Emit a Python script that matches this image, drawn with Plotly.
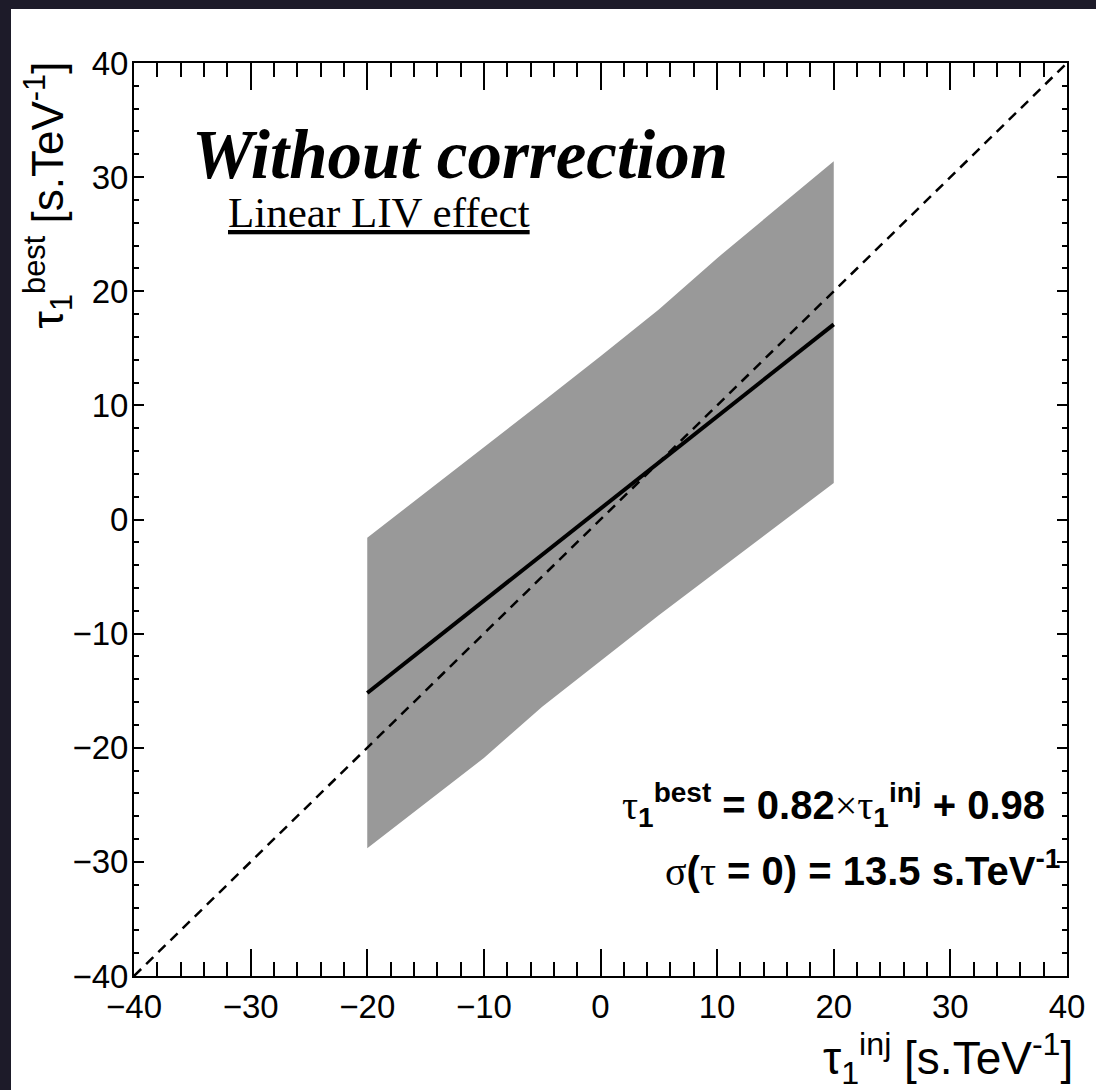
import plotly.graph_objects as go

# ---- data ----
band_x = [-20, -10, -5, 0, 5, 10, 20]
band_upper = [-1.6, 6.3, 10.3, 14.3, 18.4, 22.9, 31.4]
band_lower = [-28.8, -20.9, -16.4, -12.4, -8.4, -4.5, 3.2]
fit_x = [-20, 20]
fit_y = [-15.2, 17.1]
diag_x = [-40, 40]
diag_y = [-40, 40]
tick_vals = [-40, -30, -20, -10, 0, 10, 20, 30, 40]

W, H = 1096, 1090
L, R, T, B = 134, 1096 - 1067, 63, 1090 - 976
pw, ph = W - L - R, H - T - B


def px(x):
    return (x - L) / pw


def py(y):
    return (H - B - y) / ph


fig = go.Figure()
fig.add_trace(go.Scatter(
    x=band_x + band_x[::-1], y=band_upper + band_lower[::-1],
    fill="toself", fillcolor="#999999", line=dict(width=0),
    mode="lines", hoverinfo="skip", showlegend=False))
fig.add_trace(go.Scatter(
    x=diag_x, y=diag_y, mode="lines",
    line=dict(color="black", width=2.5, dash="10px,7px"), showlegend=False))
fig.add_trace(go.Scatter(
    x=fit_x, y=fit_y, mode="lines",
    line=dict(color="black", width=4), showlegend=False))

tickfont = dict(family="Liberation Sans, Arial, sans-serif", size=33, color="black")
common = dict(range=[-40, 40], showgrid=False, zeroline=False, showline=True,
              linecolor="black", linewidth=2, mirror="ticks", ticks="inside",
              tickwidth=2, tickcolor="black", tickvals=tick_vals,
              tickfont=tickfont)
fig.update_xaxes(**common, ticklen=27,
                 minor=dict(ticks="inside", ticklen=14, dtick=2, tickwidth=2, tickcolor="black", showgrid=False))
fig.update_yaxes(**common, ticklen=10, ticklabelstandoff=-3,
                 minor=dict(ticks="inside", ticklen=5, dtick=2, tickwidth=2, tickcolor="black", showgrid=False))

serif = "Liberation Serif, Times New Roman, serif"
sans = "Liberation Sans, Arial, sans-serif"
sym = '<span style="font-family:Liberation Serif;font-weight:normal">'

annotations = [
    dict(text="<b><i>Without correction</i></b>", x=px(190), y=py(155),
         xanchor="left", yanchor="middle", font=dict(family=serif, size=69, color="black")),
    dict(text="<u>Linear LIV effect</u>", x=px(226), y=py(212),
         xanchor="left", yanchor="middle", font=dict(family=serif, size=43, color="black")),
    dict(text="<b>" + sym + "τ</span><sub>1</sub><sup>best</sup> = 0.82" + sym + "×τ</span><sub>1</sub><sup>inj</sup> + 0.98</b>",
         x=px(1047), y=py(805), xanchor="right", yanchor="middle",
         font=dict(family=sans, size=40, color="black")),
    dict(text="<b>" + sym + "σ</span>(" + sym + "τ</span> = 0) = 13.5 s.TeV<sup>-1</sup></b>",
         x=px(1062), y=py(868), xanchor="right", yanchor="middle",
         font=dict(family=sans, size=40, color="black")),
    dict(text="τ<sub>1</sub><sup>inj</sup> [s.TeV<sup>-1</sup>]", x=px(1075), y=py(1058),
         xanchor="right", yanchor="middle", font=dict(family=sans, size=46, color="black")),
    dict(text="τ<sub>1</sub><sup>best</sup> [s.TeV<sup>-1</sup>]", x=px(48), y=py(60),
         xanchor="center", yanchor="top", textangle=-90,
         font=dict(family=sans, size=44, color="black")),
]
for a in annotations:
    a.update(xref="paper", yref="paper", showarrow=False)

fig.update_layout(
    width=W, height=H,
    margin=dict(l=L, r=R, t=T, b=B),
    paper_bgcolor="#1d1b29",
    plot_bgcolor="rgba(0,0,0,0)",
    showlegend=False,
    annotations=annotations,
    shapes=[dict(type="rect", xref="paper", yref="paper",
                 x0=px(11), x1=px(W + 5), y0=py(H + 5), y1=py(9),
                 fillcolor="white", line=dict(width=0), layer="below")],
)

fig.write_html("out.html")
